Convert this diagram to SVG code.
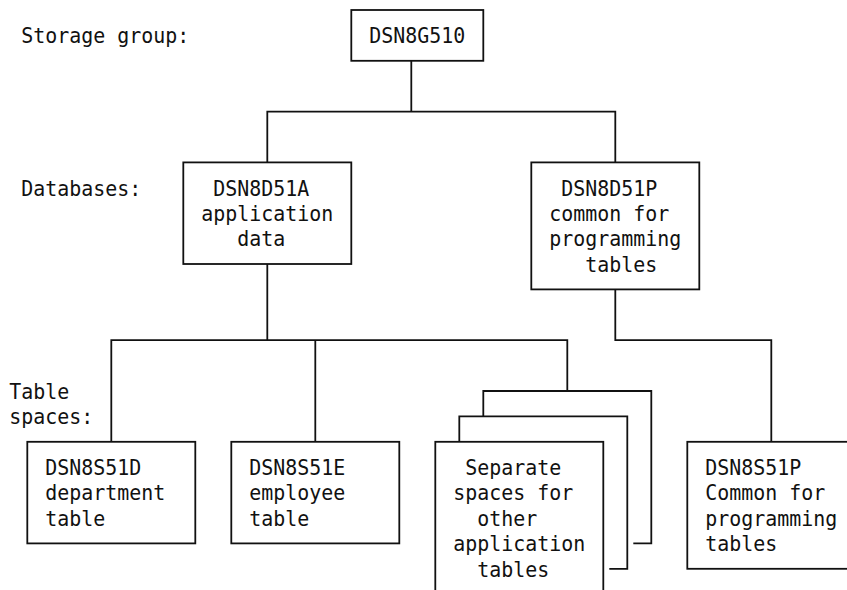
<svg xmlns="http://www.w3.org/2000/svg" width="847" height="590" viewBox="0 0 847 590">
<style>
.b{fill:#fff;stroke:#111;stroke-width:1.8}
.l{fill:none;stroke:#111;stroke-width:1.8}
text{font-family:"DejaVu Sans Mono","Liberation Mono",monospace;font-size:21px;fill:#111}
</style>
<rect width="847" height="590" fill="#fff"/>
<g id="labels">
<text x="21.3" y="43.1" textLength="168" lengthAdjust="spacingAndGlyphs">Storage group:</text>
<text x="21.3" y="195.5" textLength="120" lengthAdjust="spacingAndGlyphs">Databases:</text>
<text x="9.3" y="398.7" textLength="60" lengthAdjust="spacingAndGlyphs">Table</text>
<text x="9.3" y="424.1" textLength="84" lengthAdjust="spacingAndGlyphs">spaces:</text>
</g>
<g id="connectors">
<path class="l" d="M411.3 60.8V111.6"/>
<path class="l" d="M267.3 162.4V111.6H615.3V162.4"/>
<path class="l" d="M267.3 264V340.2"/>
<path class="l" d="M111.3 441.8V340.2H567.3V391"/>
<path class="l" d="M315.3 340.2V441.8"/>
<path class="l" d="M615.3 289.4V340.2H771.3V441.8"/>
</g>
<g id="node-DSN8G510">
<rect class="b" x="351.3" y="10" width="132" height="50.8"/>
<text x="369.3" y="43.1" textLength="96" lengthAdjust="spacingAndGlyphs">DSN8G510</text>
</g>
<g id="node-DSN8D51A">
<rect class="b" x="183.3" y="162.4" width="168" height="101.6"/>
<text x="213.3" y="195.5" textLength="96" lengthAdjust="spacingAndGlyphs">DSN8D51A</text>
<text x="201.3" y="220.9" textLength="132" lengthAdjust="spacingAndGlyphs">application</text>
<text x="237.3" y="246.3" textLength="48" lengthAdjust="spacingAndGlyphs">data</text>
</g>
<g id="node-DSN8D51P">
<rect class="b" x="531.3" y="162.4" width="168" height="127"/>
<text x="561.3" y="195.5" textLength="96" lengthAdjust="spacingAndGlyphs">DSN8D51P</text>
<text x="549.3" y="220.9" textLength="120" lengthAdjust="spacingAndGlyphs">common for</text>
<text x="549.3" y="246.3" textLength="132" lengthAdjust="spacingAndGlyphs">programming</text>
<text x="585.3" y="271.7" textLength="72" lengthAdjust="spacingAndGlyphs">tables</text>
</g>
<g id="node-DSN8S51D">
<rect class="b" x="27.3" y="441.8" width="168" height="101.6"/>
<text x="45.3" y="474.9" textLength="96" lengthAdjust="spacingAndGlyphs">DSN8S51D</text>
<text x="45.3" y="500.3" textLength="120" lengthAdjust="spacingAndGlyphs">department</text>
<text x="45.3" y="525.7" textLength="60" lengthAdjust="spacingAndGlyphs">table</text>
</g>
<g id="node-DSN8S51E">
<rect class="b" x="231.3" y="441.8" width="168" height="101.6"/>
<text x="249.3" y="474.9" textLength="96" lengthAdjust="spacingAndGlyphs">DSN8S51E</text>
<text x="249.3" y="500.3" textLength="96" lengthAdjust="spacingAndGlyphs">employee</text>
<text x="249.3" y="525.7" textLength="60" lengthAdjust="spacingAndGlyphs">table</text>
</g>
<g id="node-separate-spaces">
<path class="l" d="M483.3 416.4V391H651.3V543.4H633.3"/>
<path class="l" d="M459.3 441.8V416.4H627.3V568.8H609.3"/>
<rect class="b" x="435.3" y="441.8" width="168" height="160"/>
<text x="465.3" y="474.9" textLength="96" lengthAdjust="spacingAndGlyphs">Separate</text>
<text x="453.3" y="500.3" textLength="120" lengthAdjust="spacingAndGlyphs">spaces for</text>
<text x="477.3" y="525.7" textLength="60" lengthAdjust="spacingAndGlyphs">other</text>
<text x="453.3" y="551.1" textLength="132" lengthAdjust="spacingAndGlyphs">application</text>
<text x="477.3" y="576.5" textLength="72" lengthAdjust="spacingAndGlyphs">tables</text>
</g>
<g id="node-DSN8S51P">
<rect class="b" x="687.3" y="441.8" width="168" height="127"/>
<text x="705.3" y="474.9" textLength="96" lengthAdjust="spacingAndGlyphs">DSN8S51P</text>
<text x="705.3" y="500.3" textLength="120" lengthAdjust="spacingAndGlyphs">Common for</text>
<text x="705.3" y="525.7" textLength="132" lengthAdjust="spacingAndGlyphs">programming</text>
<text x="705.3" y="551.1" textLength="72" lengthAdjust="spacingAndGlyphs">tables</text>
</g>
</svg>
